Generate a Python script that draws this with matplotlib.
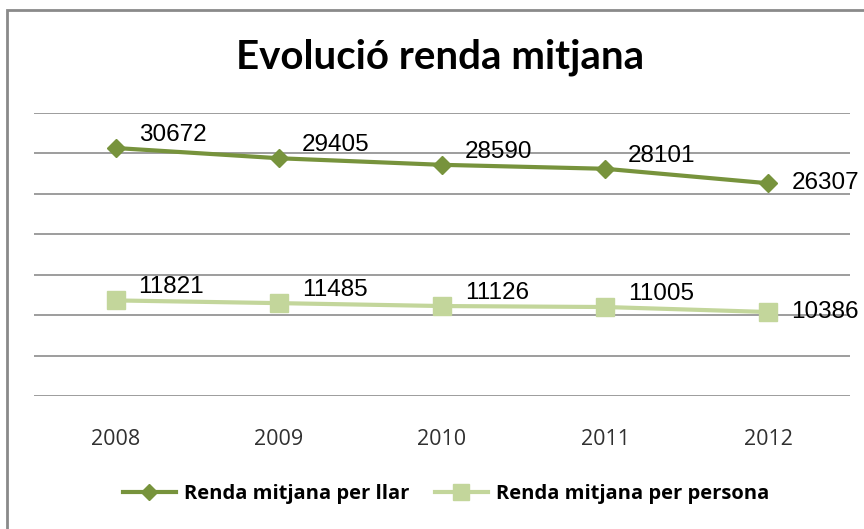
import matplotlib
matplotlib.use('Agg')
import matplotlib.pyplot as plt
from matplotlib.patches import Rectangle
from matplotlib.lines import Line2D

years = ['2008', '2009', '2010', '2011', '2012']
renda_llar = [30672, 29405, 28590, 28101, 26307]
renda_persona = [11821, 11485, 11126, 11005, 10386]
series_names = ['Renda mitjana per llar', 'Renda mitjana per persona']

dark_green = '#77933C'
light_green = '#C3D69B'
grid_grey = '#8C8C8C'

fig = plt.figure(figsize=(8.64, 5.29), dpi=100)
ax = fig.add_axes([34 / 864, 1 - 396 / 529, (850 - 34) / 864, (396 - 113) / 529])

x = list(range(len(years)))
ax.plot(x, renda_llar, color=dark_green, lw=3, marker='D', ms=9,
        label=series_names[0])
ax.plot(x, renda_persona, color=light_green, lw=3, marker='s', ms=13,
        label=series_names[1])

# data labels: up-right of the point, level for the last one
for serie in (renda_llar, renda_persona):
    for i, v in enumerate(serie):
        dy = 0 if i == len(serie) - 1 else 13
        ax.annotate(str(v), (i, v), xytext=(23, dy), textcoords='offset pixels',
                    ha='left', va='center', fontsize=17.5,
                    family='Liberation Sans', color='black')

ax.set_xlim(-0.5, len(years) - 0.5)
ax.set_ylim(0, 35000)
ax.set_yticks(range(0, 35001, 5000))
ax.yaxis.grid(True, color=grid_grey, lw=1.2)
ax.set_axisbelow(True)
ax.tick_params(axis='y', left=False, labelleft=False)
ax.tick_params(axis='x', bottom=False, pad=20)
ax.set_xticks(x)
ax.set_xticklabels(years, fontsize=15.5, family='Open Sans', color='#303030')
for s in ax.spines.values():
    s.set_visible(False)

fig.text(440 / 864, 1 - 57 / 529, 'Evolució renda mitjana', ha='center',
         va='center', fontsize=29, family='Lato', fontweight='bold')

handles = [Line2D([], [], color=dark_green, lw=3, marker='D', ms=8),
           Line2D([], [], color=light_green, lw=3, marker='s', ms=11)]
fig.legend(handles, series_names, loc='center', bbox_to_anchor=(446 / 864, 1 - 494 / 529),
           ncol=2, frameon=False, prop={'family': 'Open Sans', 'size': 14.5, 'weight': 'bold'},
           handlelength=2.6, columnspacing=1.3, handletextpad=0.4)

fig.patches.append(Rectangle((7 / 864, -0.05), 1.1, 1 - 10 / 529 + 0.05,
                             transform=fig.transFigure, fill=False,
                             edgecolor='#8A8A8A', lw=2))

fig.savefig('out.png', dpi=100)
